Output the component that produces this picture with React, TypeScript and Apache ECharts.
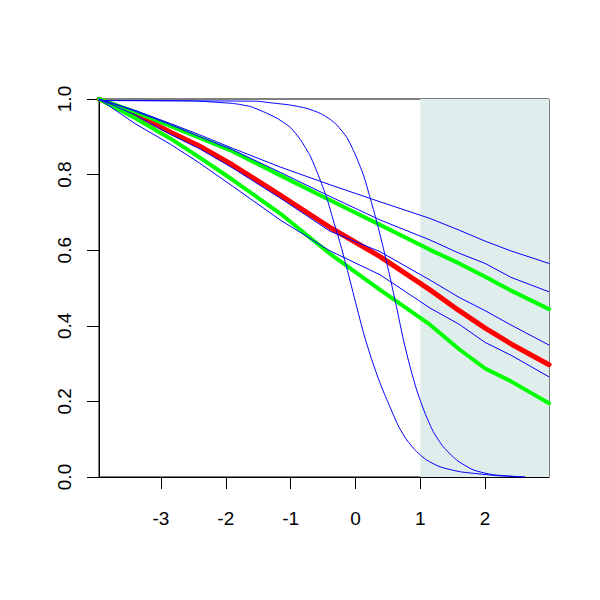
import React, { useEffect, useRef } from "react";
import * as echarts from "echarts";

// Axis extents and ticks
const X_MIN = -3.955;
const X_MAX = 2.985;
const X_TICKS = [-3, -2, -1, 0, 1, 2];
const Y_TICKS = [0, 0.2, 0.4, 0.6, 0.8, 1.0];
const SHADE_FROM = 1;

// Near-linear curves, sampled at common x
const lineX = [-3.955, -3.4, -2.85, -2.4, -1.9, -1.16, -0.39, 0.38, 1.15, 1.6, 2.0, 2.4, 2.985];
const blue1 = [1.0, 0.97, 0.935, 0.905, 0.87, 0.82, 0.773, 0.728, 0.684, 0.653, 0.624, 0.598, 0.565];
const blue2 = [1.0, 0.968, 0.932, 0.9, 0.866, 0.806, 0.742, 0.68, 0.627, 0.592, 0.565, 0.528, 0.49];
const blue3 = [1.0, 0.958, 0.906, 0.868, 0.818, 0.738, 0.65, 0.596, 0.521, 0.475, 0.44, 0.402, 0.349];
const blue4 = [1.0, 0.935, 0.88, 0.83, 0.77, 0.68, 0.598, 0.535, 0.447, 0.404, 0.356, 0.322, 0.265];
const green1 = [1.0, 0.966, 0.928, 0.897, 0.862, 0.798, 0.732, 0.667, 0.601, 0.565, 0.53, 0.493, 0.444];
const green2 = [1.0, 0.95, 0.895, 0.845, 0.787, 0.697, 0.59, 0.495, 0.403, 0.338, 0.287, 0.253, 0.195];
const red = [1.0, 0.96, 0.912, 0.875, 0.826, 0.746, 0.66, 0.583, 0.495, 0.44, 0.394, 0.352, 0.297];

// Steep curves [x, y]
const steep1: number[][] = [
  [-3.955, 0.996], [-2.5, 0.995], [-2.128, 0.991], [-1.877, 0.988], [-1.62, 0.98],
  [-1.415, 0.966], [-1.209, 0.949], [-1.005, 0.925], [-0.851, 0.893], [-0.697, 0.849],
  [-0.569, 0.797], [-0.44, 0.737], [-0.338, 0.677], [-0.235, 0.618], [-0.132, 0.552],
  [-0.031, 0.484], [0.123, 0.382], [0.252, 0.31], [0.38, 0.248], [0.508, 0.195],
  [0.662, 0.135], [0.791, 0.098], [0.945, 0.067], [1.098, 0.045], [1.303, 0.027],
  [1.611, 0.014], [1.918, 0.008], [2.226, 0.003], [2.61, 0.0],
];
const steep2: number[][] = [
  [-3.955, 0.996], [-2.5, 0.995], [-1.512, 0.994], [-1.312, 0.99], [-1.005, 0.984],
  [-0.748, 0.975], [-0.543, 0.962], [-0.389, 0.946], [-0.286, 0.931], [-0.132, 0.898],
  [-0.005, 0.854], [0.123, 0.799], [0.226, 0.739], [0.329, 0.675], [0.431, 0.605],
  [0.534, 0.528], [0.585, 0.488], [0.637, 0.447], [0.738, 0.364], [0.842, 0.292],
  [0.945, 0.23], [1.072, 0.169], [1.2, 0.12], [1.354, 0.08], [1.56, 0.045],
  [1.815, 0.019], [2.123, 0.006], [2.61, 0.0],
];

const FONT = "'Liberation Sans', Arial, Helvetica, sans-serif";

function pairs(xs: number[], ys: number[]) {
  return xs.map((x, i) => [x, ys[i]]);
}

export default function App() {
  const ref = useRef<HTMLDivElement>(null);
  useEffect(() => {
    if (!ref.current) return;
    const chart = echarts.init(ref.current, undefined, { renderer: "svg" });
    const mk = (name: string, data: number[][], color: string, width: number, smooth: number | false = false) => ({
      name,
      type: "line",
      data,
      showSymbol: false,
      symbol: "none",
      smooth,
      lineStyle: { color, width, join: "round", cap: "round" },
      silent: true,
    });
    chart.setOption({
      animation: false,
      grid: {
        left: 99,
        right: 51,
        top: 99,
        bottom: 123,
        show: true,
        borderColor: "#000",
        borderWidth: 1,
        backgroundColor: "transparent",
      },
      xAxis: {
        type: "value",
        min: X_MIN,
        max: X_MAX,
        splitLine: { show: false },
        axisLine: { show: true, onZero: false, lineStyle: { color: "#000", width: 1 } },
        axisTick: {
          show: true,
          length: 12,
          customValues: X_TICKS,
          lineStyle: { color: "#000", width: 1 },
        },
        axisLabel: {
          customValues: X_TICKS,
          fontSize: 19,
          fontFamily: FONT,
          color: "#000",
          margin: 32,
          formatter: (v: number) => String(v),
        },
      },
      yAxis: {
        type: "value",
        min: 0,
        max: 1,
        interval: 0.2,
        splitLine: { show: false },
        axisLine: { show: true, onZero: false, lineStyle: { color: "#000", width: 1 } },
        axisTick: { show: true, length: 12, lineStyle: { color: "#000", width: 1 } },
        axisLabel: {
          customValues: Y_TICKS,
          rotate: 90,
          fontSize: 19,
          fontFamily: FONT,
          color: "#000",
          margin: 25,
          formatter: (v: number) => v.toFixed(1),
        },
      },
      series: [
        {
          type: "line",
          data: [],
          silent: true,
          markArea: {
            silent: true,
            itemStyle: { color: "#E0EDED", opacity: 1 },
            data: [[{ coord: [SHADE_FROM, 0] }, { coord: [X_MAX, 1] }]],
          },
          z: 1,
        },
        mk("red", pairs(lineX, red), "#FF0000", 5),
        mk("green1", pairs(lineX, green1), "#00FF00", 4),
        mk("green2", pairs(lineX, green2), "#00FF00", 4),
        mk("blue1", pairs(lineX, blue1), "#0000FF", 1),
        mk("blue2", pairs(lineX, blue2), "#0000FF", 1),
        mk("blue3", pairs(lineX, blue3), "#0000FF", 1),
        mk("blue4", pairs(lineX, blue4), "#0000FF", 1),
        mk("steep1", steep1, "#0000FF", 1, 0.2),
        mk("steep2", steep2, "#0000FF", 1, 0.2),
      ],
    });
    return () => chart.dispose();
  }, []);
  return (
    <div
      ref={ref}
      style={{ position: "absolute", left: 0, top: 0, width: 600, height: 600, background: "#fff" }}
    />
  );
}
